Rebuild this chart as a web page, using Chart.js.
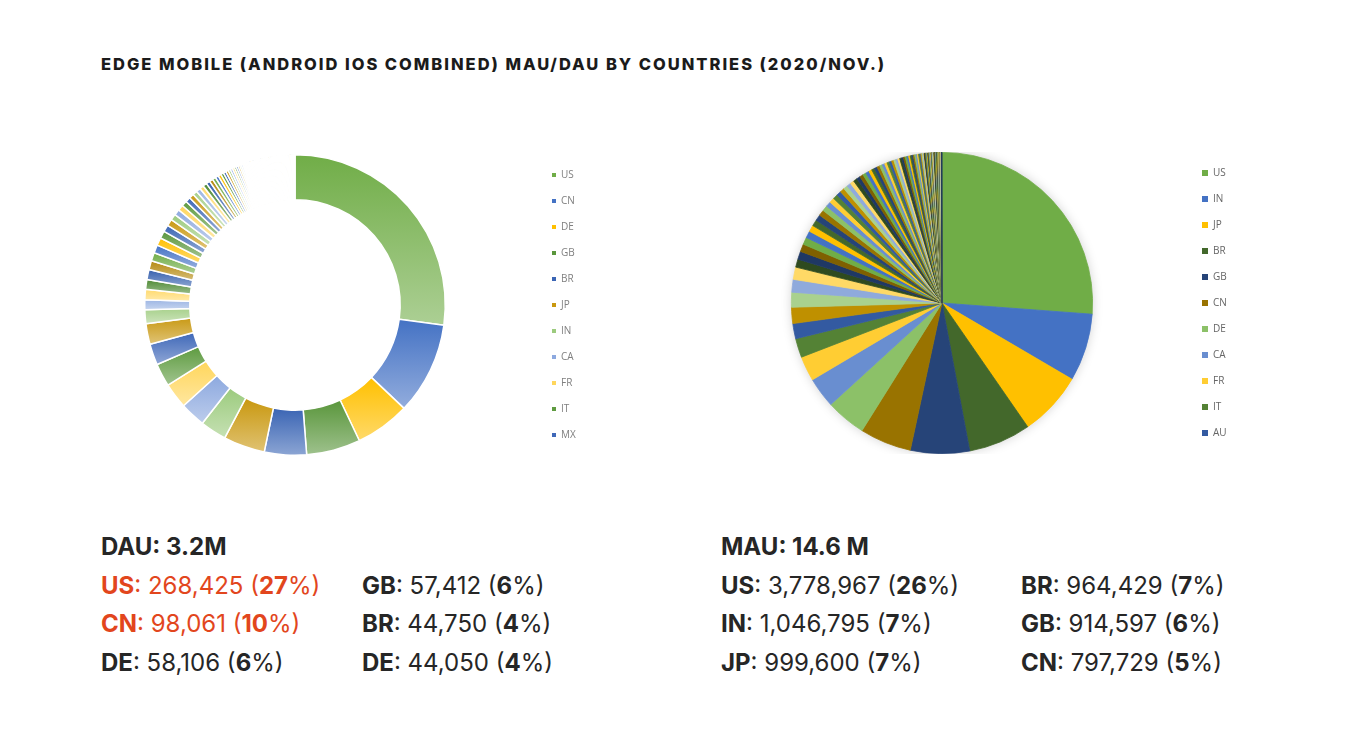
<!DOCTYPE html>
<html>
<head>
<meta charset="utf-8">
<script src="https://cdn.jsdelivr.net/npm/chart.js@4.4.0/dist/chart.umd.min.js"></script>
<style>
  html, body { margin: 0; padding: 0; background: #fff; }
  body { width: 1348px; height: 752px; position: relative; overflow: hidden; font-family: Inter, "Noto Sans", sans-serif; color: #222; }
  .title { position: absolute; left: 101px; top: 54px; font-size: 16.5px; line-height: 20px; font-weight: 800; white-space: nowrap; color: #1b1b1b; }
  .box { position: absolute; }
  .stats { position: absolute; top: 528px; font-size: 24px; line-height: 38.5px; white-space: nowrap; color: #262626; }
  .stats .head { font-weight: 700; }
  .stats b { font-weight: 700; }
  .col2 { position: absolute; top: 38.5px; }
  .red { color: #e2461d; }
</style>
</head>
<body>
<div class="title" id="title">EDGE MOBILE (ANDROID IOS COMBINED) MAU/DAU BY COUNTRIES (2020/NOV.)</div>

<div class="box" style="left:54px; top:154px; width:528px; height:302px;"><canvas id="dauChart"></canvas></div>
<div class="box" style="left:698px; top:152px; width:534px; height:302px;"><canvas id="mauChart"></canvas></div>

<div class="stats" style="left:101px;">
  <div class="head">DAU: 3.2M</div>
  <div class="red"><b>US</b>: 268,425 (<b>27</b>%)</div>
  <div class="red"><b>CN</b>: 98,061 (<b>10</b>%)</div>
  <div><b>DE</b>: 58,106 (<b>6</b>%)</div>
  <div class="col2" style="left:261px;">
    <div><b>GB</b>: 57,412 (<b>6</b>%)</div>
    <div><b>BR</b>: 44,750 (<b>4</b>%)</div>
    <div><b>DE</b>: 44,050 (<b>4</b>%)</div>
  </div>
</div>

<div class="stats" style="left:721px;">
  <div class="head">MAU: 14.6 M</div>
  <div><b>US</b>: 3,778,967 (<b>26</b>%)</div>
  <div><b>IN</b>: 1,046,795 (<b>7</b>%)</div>
  <div><b>JP</b>: 999,600 (<b>7</b>%)</div>
  <div class="col2" style="left:300px;">
    <div><b>BR</b>: 964,429 (<b>7</b>%)</div>
    <div><b>GB</b>: 914,597 (<b>6</b>%)</div>
    <div><b>CN</b>: 797,729 (<b>5</b>%)</div>
  </div>
</div>

<script>
// top countries shown in each legend
const dauTop = ['US', 'CN', 'DE', 'GB', 'BR', 'JP', 'IN', 'CA', 'FR', 'IT', 'MX', 'AU'];
const mauTop = ['US', 'IN', 'JP', 'BR', 'GB', 'CN', 'DE', 'CA', 'FR', 'IT', 'AU', 'MX'];
const otherCodes = ['ES', 'KR', 'RU', 'NL', 'TR', 'ID', 'PL', 'TW', 'SE', 'CH', 'BE', 'AR', 'CO', 'AT', 'PH',
  'TH', 'VN', 'MY', 'SG', 'HK', 'SA', 'AE', 'ZA', 'EG', 'NG', 'PT', 'IE', 'DK', 'NO', 'FI', 'CZ', 'RO', 'HU',
  'GR', 'IL', 'UA', 'CL', 'PE', 'NZ', 'PK', 'BD', 'KE', 'MA', 'DZ', 'TN', 'VE', 'EC', 'UY', 'PY', 'BO', 'CR',
  'PA', 'DO', 'GT', 'HN', 'SV', 'NI', 'CU', 'JM', 'TT', 'PR', 'LK', 'NP', 'MM', 'KH', 'LA', 'KZ', 'UZ', 'BY',
  'LT', 'LV', 'EE', 'SK', 'SI', 'HR', 'RS', 'BA', 'BG', 'MK', 'AL', 'MD', 'GE', 'AM', 'AZ', 'IQ', 'IR', 'JO',
  'LB', 'KW', 'QA', 'BH', 'OM', 'YE', 'GH', 'CI', 'SN', 'CM', 'ET', 'TZ', 'UG', 'ZW', 'ZM', 'AO', 'MZ', 'MG',
  'MU', 'RE', 'LU', 'IS', 'MT', 'CY'];

const dauValues = [268425, 98061, 58106, 57412, 44750, 44050, 28000, 27000, 27000, 24500, 22500,
  22000, 14500, 10500, 11000, 10500, 10500,
  9500, 9000, 8600, 8200, 7800, 7400, 7000, 6600, 6300, 6000, 5700, 5400, 5100, 4800, 4600, 4400,
  4200, 4000, 3800, 3600, 3400, 3200, 3000, 2850, 2700, 2550, 2400, 2250, 2100, 2000, 1900, 1800,
  1700, 1600, 1500,
  1450, 1430, 1420, 1390, 1380, 1360, 1350, 1330, 1310, 1300, 1290, 1270, 1260, 1250, 1240, 1220,
  1210, 1200, 1190, 1180, 1170, 1160, 1140, 1130, 1120, 1110, 1100, 1090, 1080, 1060, 1050, 1040,
  1030, 1020, 1010, 1000, 990, 980, 970, 960, 940, 930, 920, 910, 900, 890];

// MAU per country (top six from the text)
const mauValues = [3778967, 1046795, 999600, 964429, 914597, 797729, 623000, 470000, 384000, 295000, 235000,
  250000, 230000, 198000, 190000, 125000, 125000,
  118000, 112000, 106000, 101000, 97000, 93000, 89000, 85000, 81000, 78000, 75000, 72000, 69000, 66000,
  63000, 61000, 59000, 57000, 55000, 53000, 51000, 49000, 47000, 45000, 43500, 42000, 40500, 39000,
  37500, 36000, 34500, 33000, 32000, 31000, 30000, 29000, 28000, 27000, 26000, 25000, 24000, 23000,
  22000, 21000, 20000, 19000, 18000, 17000, 16000, 15000,
  9800, 9600, 9500, 9300, 9200, 9000, 8900, 8700, 8600, 8500, 8300, 8200, 8100, 8000, 7900, 7700,
  7600, 7500, 7400, 7300, 7200, 7100, 7000, 6900, 6800, 6700, 6600, 6500, 6400, 6300, 6200, 6100,
  6000, 5900, 5800, 5700, 5600, 5500, 5400, 5300];

const legendCount = 11;

// pie colours (flat Excel palette)
const piePalette = ['#70AD47', '#4472C4', '#FFC000', '#43682B', '#264478', '#997300', '#8CC168', '#698ED0',
  '#FFCD33', '#548235', '#335AA1', '#BF9000', '#A9D18E', '#8FAADC', '#FFD966', '#2E4A1F', '#1F3864', '#7F6000'];
// doughnut colours (same family, lighter shades used with a gradient)
const donutPalette = ['#70AD47', '#4472C4', '#FFC000', '#5A963C', '#3B65B4', '#C9980F', '#9CCB7E', '#8DA9DF',
  '#FFD65C', '#5E9B40', '#3F68B8', '#C99A16', '#A8D18C', '#9DB6E4', '#FFDA6E', '#4E8A34', '#3660AE', '#B58A10'];

function mix(hex, t) {
  const n = parseInt(hex.slice(1), 16);
  const r = (n >> 16) & 255, g = (n >> 8) & 255, b = n & 255;
  const m = (c) => Math.round(c + (255 - c) * t);
  return `rgb(${m(r)},${m(g)},${m(b)})`;
}

// every doughnut slice gets its own top->bottom gradient, like the Excel original
function sliceGradient(context) {
  const chart = context.chart;
  const area = chart.chartArea;
  const base = donutPalette[context.dataIndex % donutPalette.length];
  if (!area || context.type !== 'data') return base;
  const values = context.dataset.data;
  const total = values.reduce((a, b) => a + b, 0);
  let start = 0;
  for (let i = 0; i < context.dataIndex; i++) start += values[i];
  const a0 = -Math.PI / 2 + start / total * 2 * Math.PI;
  const a1 = a0 + values[context.dataIndex] / total * 2 * Math.PI;
  const cy = (area.top + area.bottom) / 2;
  const ro = Math.min(area.width, area.height) / 2;
  const ri = ro * 0.7;
  let ymin = Infinity, ymax = -Infinity;
  for (let k = 0; k <= 10; k++) {
    const a = a0 + (a1 - a0) * k / 10;
    [ri, ro].forEach(r => {
      const y = cy + r * Math.sin(a);
      ymin = Math.min(ymin, y);
      ymax = Math.max(ymax, y);
    });
  }
  if (ymax - ymin < 1) ymax = ymin + 1;
  const g = chart.ctx.createLinearGradient(0, ymin, 0, ymax);
  g.addColorStop(0, base);
  g.addColorStop(1, mix(base, 0.42));
  return g;
}

function legendLabels(names, colors, textColor) {
  return function (chart) {
    return names.slice(0, legendCount).map((text, i) => ({
      text: text,
      fillStyle: colors[i % colors.length],
      strokeStyle: colors[i % colors.length],
      lineWidth: 0,
      fontColor: textColor,
      hidden: false,
      index: i
    }));
  };
}

// soft shadow behind the pie
const pieShadow = {
  id: 'pieShadow',
  beforeDatasetsDraw(chart) {
    const meta = chart.getDatasetMeta(0);
    if (!meta.data.length) return;
    const arc = meta.data[0];
    const ctx = chart.ctx;
    ctx.save();
    ctx.shadowColor = 'rgba(0,0,0,0.22)';
    ctx.shadowBlur = 12;
    ctx.fillStyle = '#fff';
    ctx.beginPath();
    ctx.arc(arc.x, arc.y, arc.outerRadius - 1, 0, Math.PI * 2);
    ctx.fill();
    ctx.restore();
  }
};

Chart.defaults.font.family = '"Open Sans", "Liberation Sans", sans-serif';

const dauLabels = dauTop.concat(otherCodes).slice(0, dauValues.length);
const mauLabels = mauTop.concat(otherCodes).slice(0, mauValues.length);

new Chart(document.getElementById('dauChart'), {
  type: 'doughnut',
  data: {
    labels: dauLabels,
    datasets: [{
      data: dauValues,
      backgroundColor: sliceGradient,
      borderColor: '#ffffff',
      borderWidth: 1.5
    }]
  },
  options: {
    responsive: true,
    maintainAspectRatio: false,
    animation: false,
    cutout: '70%',
    layout: { padding: 0 },
    plugins: {
      tooltip: { enabled: false },
      legend: {
        position: 'right',
        maxWidth: 46,
        labels: {
          boxWidth: 4,
          boxHeight: 4,
          padding: 16,
          color: '#808080',
          font: { size: 10 },
          generateLabels: legendLabels(dauLabels, donutPalette, '#808080')
        }
      }
    }
  }
});

new Chart(document.getElementById('mauChart'), {
  type: 'pie',
  data: {
    labels: mauLabels,
    datasets: [{
      data: mauValues,
      backgroundColor: mauValues.map((v, i) => piePalette[i % piePalette.length]),
      borderColor: mauValues.map((v, i) => piePalette[i % piePalette.length]),
      borderWidth: 0.8
    }]
  },
  options: {
    responsive: true,
    maintainAspectRatio: false,
    animation: false,
    layout: { padding: 0 },
    plugins: {
      tooltip: { enabled: false },
      legend: {
        position: 'right',
        maxWidth: 46,
        labels: {
          boxWidth: 6,
          boxHeight: 6,
          padding: 16,
          color: '#666666',
          font: { size: 10 },
          generateLabels: legendLabels(mauLabels, piePalette, '#666666')
        }
      }
    }
  },
  plugins: [pieShadow]
});

// stretch the title to the width it has in the original
const title = document.getElementById('title');
const chars = title.textContent.length;
const natural = title.getBoundingClientRect().width;
title.style.letterSpacing = ((785 - natural) / chars) + 'px';
</script>
</body>
</html>
